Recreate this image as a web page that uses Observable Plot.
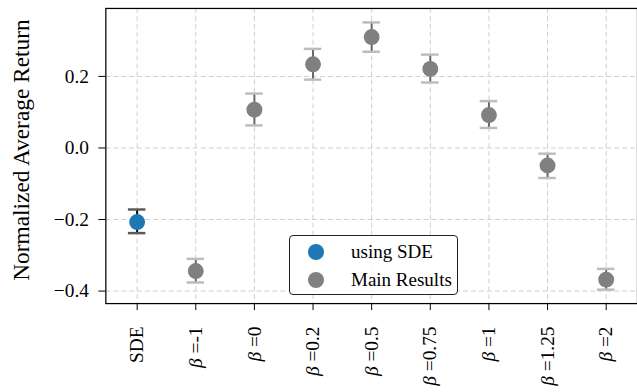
<!DOCTYPE html>
<html>
<head>
<meta charset="utf-8">
<script src="https://cdn.jsdelivr.net/npm/d3@7"></script>
<script src="https://cdn.jsdelivr.net/npm/@observablehq/plot@0.6"></script>
<style>
  body { margin: 0; background: #fff; overflow: hidden; }
  #chart { position: relative; width: 637px; height: 392px; overflow: hidden; }
  #chart svg { display: block; }
  #chart svg text { font-family: "Liberation Serif", serif; }
  .legend {
    position: absolute; left: 289px; top: 235px; width: 167px; height: 58px;
    border: 1px solid #222; border-radius: 4px; background: rgba(255,255,255,0.85);
    font-family: "Liberation Serif", serif; font-size: 19px; color: #000;
  }
  .legend .item { position: absolute; left: 0; height: 28px; display: flex; align-items: center; }
  .legend .swatch { position: absolute; left: 18px; width: 16px; height: 16px; border-radius: 50%; }
  .legend .name { position: absolute; left: 61px; white-space: nowrap; }
</style>
</head>
<body>
<div id="chart"></div>
<script>
// Methods along the x axis (β values), with the SDE baseline first
const settings = ["SDE", "-1", "0", "0.2", "0.5", "0.75", "1", "1.25", "2"];
const series   = ["using SDE", "Main Results", "Main Results", "Main Results", "Main Results",
                  "Main Results", "Main Results", "Main Results", "Main Results"];
const means    = [-0.207, -0.344, 0.107, 0.234, 0.310, 0.221, 0.092, -0.049, -0.368];
const lower    = [-0.238, -0.376, 0.063, 0.191, 0.269, 0.183, 0.056, -0.084, -0.396];
const upper    = [-0.172, -0.310, 0.152, 0.277, 0.351, 0.261, 0.131, -0.016, -0.338];
const yTicks   = [-0.4, -0.2, 0.0, 0.2];
const seriesNames  = ["using SDE", "Main Results"];
const seriesColors = ["#1f77b4", "#808080"];

const rows = settings.map((s, i) => ({
  setting: s, series: series[i], mean: means[i], lo: lower[i], hi: upper[i]
}));
const isSDE = d => d.series === seriesNames[0];
const notSDE = d => !isSDE(d);

const serif = "'Liberation Serif', serif";
const tickLabel = d => d === "SDE" ? "SDE" : "β =" + d;
const gridStyle = { stroke: "#cfcfcf", strokeOpacity: 1, strokeWidth: 1, strokeDasharray: "5,3" };
const capInset = 20.7;

const chart = Plot.plot({
  width: 641,
  height: 392,
  marginLeft: 106,
  marginRight: 0,
  marginTop: 8,
  marginBottom: 87,
  style: { fontFamily: serif, fontSize: "19.5px", color: "#000", background: "#fff" },
  x: { type: "band", domain: settings, padding: 0 },
  y: { domain: [-0.435, 0.39] },
  color: { domain: seriesNames, range: seriesColors },
  marks: [
    Plot.gridX(settings, gridStyle),
    Plot.gridY(yTicks, gridStyle),
    Plot.frame({ stroke: "#000", strokeWidth: 1.25 }),
    Plot.axisY(yTicks, { tickSize: 7, tickPadding: 10, tickFormat: d3.format(".1f"), label: null, fontFamily: serif }),
    Plot.axisX({ tickSize: 7, tickPadding: 16, tickRotate: -90, tickFormat: tickLabel, label: null, fontFamily: serif }),
    Plot.text(["Normalized Average Return"], {
      frameAnchor: "left", textAnchor: "middle", lineAnchor: "middle",
      rotate: -90, dx: -85, dy: -6, fontSize: 23.5, fontFamily: serif
    }),
    // error bars: stem, then caps
    Plot.ruleX(rows, { filter: notSDE, x: "setting", y1: "lo", y2: "hi", stroke: "#666", strokeWidth: 2 }),
    Plot.ruleX(rows, { filter: isSDE, x: "setting", y1: "lo", y2: "hi", stroke: "#000", strokeWidth: 2 }),
    Plot.tickY(rows, { filter: notSDE, x: "setting", y: "hi", stroke: "#bdbdbd", strokeWidth: 2.5, insetLeft: capInset, insetRight: capInset }),
    Plot.tickY(rows, { filter: notSDE, x: "setting", y: "lo", stroke: "#bdbdbd", strokeWidth: 2.5, insetLeft: capInset, insetRight: capInset }),
    Plot.tickY(rows, { filter: isSDE, x: "setting", y: "hi", stroke: "#5a5a5a", strokeWidth: 2.5, insetLeft: capInset, insetRight: capInset }),
    Plot.tickY(rows, { filter: isSDE, x: "setting", y: "lo", stroke: "#5a5a5a", strokeWidth: 2.5, insetLeft: capInset, insetRight: capInset }),
    Plot.dot(rows, { x: "setting", y: "mean", r: 8, fill: "series" })
  ]
});

// Italic β in the x tick labels
d3.select(chart).selectAll('[aria-label="x-axis tick label"] text').each(function () {
  const t = this.textContent;
  if (!t.startsWith("β")) return;
  const sel = d3.select(this);
  sel.text(null);
  sel.append("tspan").attr("font-style", "italic").text("β");
  sel.append("tspan").text(t.slice(1));
});

const host = document.getElementById("chart");
host.appendChild(chart);

// Legend box inside the plot area
const legend = document.createElement("div");
legend.className = "legend";
seriesNames.forEach((name, i) => {
  const item = document.createElement("div");
  item.className = "item";
  item.style.top = (2 + i * 28) + "px";
  const sw = document.createElement("span");
  sw.className = "swatch";
  sw.style.background = seriesColors[i];
  const label = document.createElement("span");
  label.className = "name";
  label.textContent = name;
  item.appendChild(sw);
  item.appendChild(label);
  legend.appendChild(item);
});
host.appendChild(legend);
</script>
</body>
</html>
